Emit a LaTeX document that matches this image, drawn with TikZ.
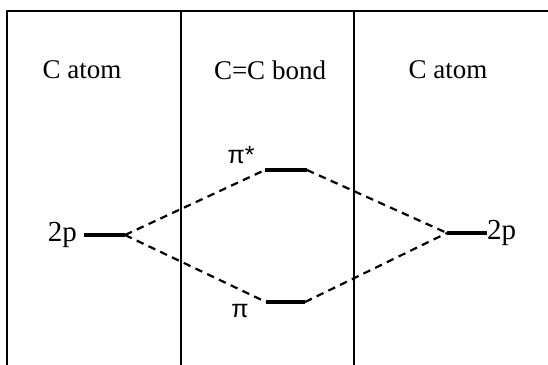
\documentclass[tikz,border=0pt]{standalone}
\usepackage{fontspec}
\setmainfont{Liberation Serif}
\newfontfamily\greekfont{Liberation Sans}
\usetikzlibrary{positioning}

\begin{document}
\begin{tikzpicture}[x=1pt, y=-1pt, line cap=butt, line join=round]
	
	\tikzset{
		frame/.style={line width=2.8pt, draw=black},
		level/.style={line width=3.4pt, draw=black},
		corr/.style={line width=2.2pt, draw=black, dash pattern=on 7.5pt off 5.5pt},
		head/.style={font=\fontsize{27}{31}\selectfont, inner sep=0pt},
		orb/.style={font=\fontsize{29}{33}\selectfont, inner sep=0pt},
		pilab/.style={font=\greekfont\fontsize{25}{29}\selectfont, inner sep=0pt},
	}
	
	\useasboundingbox (0,0) rectangle (548,364);
	
	% --- table frame (open to the right and below)
	\draw[frame] (7,370) -- (7,11) -- (560,11);
	\draw[frame] (181,11) -- (181,370);
	\draw[frame] (354,11) -- (354,370);
	
	% --- column heads
	\node[head] (atomL) at (82,70) {C atom};
	\node[head] (bond) at (270,70) {C=C bond};
	\node[head] (atomR) at (448,70) {C atom};
	
	% --- energy levels
	\coordinate (pL1) at (84,235);
	\coordinate (pL2) at (125,235);
	\coordinate (pR1) at (447,233);
	\coordinate (pR2) at (487,233);
	\coordinate (ps1) at (265,170);
	\coordinate (ps2) at (307,170);
	\coordinate (pb1) at (266,302);
	\coordinate (pb2) at (305,302);
	
	\draw[level] (pL1) -- (pL2);
	\draw[level] (pR1) -- (pR2);
	\draw[level] (ps1) -- (ps2);
	\draw[level] (pb1) -- (pb2);
	
	\node[orb, left=7pt of pL1] (lab2pL) {2p};
	\node[orb, right=0pt of pR2] (lab2pR) {2p};
	\node[pilab] (labps) at (241,155) {π*};
	\node[pilab] (labpb) at (240,311) {π};
	
	% --- correlation lines
	\draw[corr] (pL2) -- (ps1);
	\draw[corr] (pL2) -- (pb1);
	\draw[corr] (ps2) -- (pR1);
	\draw[corr] (pb2) -- (pR1);
	
\end{tikzpicture}
\end{document}
